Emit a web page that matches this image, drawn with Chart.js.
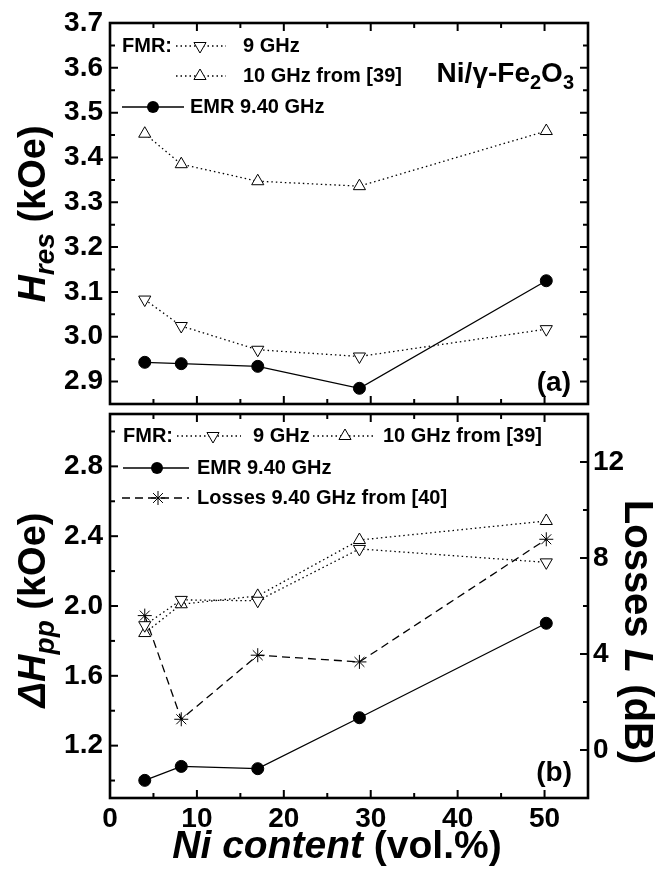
<!DOCTYPE html>
<html>
<head>
<meta charset="utf-8">
<script src="https://cdn.jsdelivr.net/npm/chart.js@4.4.1/dist/chart.umd.min.js"></script>
<style>
  html, body { margin: 0; padding: 0; background: #fff; }
  canvas { position: absolute; left: 0; }
  #topPanel { top: 0; }
  #bottomPanel { top: 406px; }
</style>
</head>
<body>
<canvas id="topPanel" width="665" height="412"></canvas>
<canvas id="bottomPanel" width="665" height="464"></canvas>
<script>
// Ni content of the samples (vol.%)
var niContent = [4.0, 8.2, 17.0, 28.7, 50.2];

// (a) resonance field, kOe
var hresFmr9 = [3.083, 3.024, 2.971, 2.956, 3.017];
var hresFmr10 = [3.453, 3.385, 3.347, 3.336, 3.459];
var hresEmr = [2.943, 2.940, 2.934, 2.885, 3.125];

// (b) linewidth, kOe, and losses, dB
var dhppFmr9 = [1.890, 2.035, 2.030, 2.327, 2.250];
var dhppFmr10 = [1.845, 2.010, 2.058, 2.378, 2.487];
var dhppEmr = [1.001, 1.081, 1.068, 1.360, 1.901];
var lossesDb = [5.6, 1.28, 3.95, 3.67, 8.78];

// ticks
var xMajorTicks = [0, 10, 20, 30, 40, 50];
var xMinorTicks = [5, 15, 25, 35, 45, 55];
var hresMajorTicks = [2.9, 3.0, 3.1, 3.2, 3.3, 3.4, 3.5, 3.6, 3.7];
var hresMinorTicks = [2.85, 2.95, 3.05, 3.15, 3.25, 3.35, 3.45, 3.55, 3.65];
var dhppMajorTicks = [1.2, 1.6, 2.0, 2.4, 2.8];
var dhppMinorTicks = [1.0, 1.4, 1.8, 2.2, 2.6, 3.0];
var lossMajorTicks = [0, 4, 8, 12];
var lossMinorTicks = [-2, 2, 6, 10, 14];

var FONT = "'Liberation Sans', Arial, sans-serif";
var tickFont = { family: FONT, size: 28, weight: 'bold' };

function pts(ys) {
  return niContent.map(function (x, i) { return { x: x, y: ys[i] }; });
}

function isIn(list, v) {
  return list.some(function (t) { return Math.abs(t - v) < 1e-6; });
}

function setTicks(major, minor) {
  return function (scale) {
    scale.ticks = major.concat(minor).sort(function (a, b) { return a - b; })
      .map(function (v) { return { value: v }; });
  };
}

function labelFor(major, digits) {
  return function (v) {
    if (!isIn(major, v)) return '';
    return digits ? v.toFixed(digits) : String(Math.round(v));
  };
}

// fixed axis sizes, no extra room for the end labels
function fixSize(w, h) {
  return function (s) {
    if (w !== null) s.width = w;
    if (h !== null) s.height = h;
    s.paddingTop = 0; s.paddingBottom = 0;
    s.paddingLeft = 0; s.paddingRight = 0;
  };
}

function dotted(label, ys, rot, axis) {
  return {
    label: label, data: pts(ys), yAxisID: axis || 'y', showLine: true,
    borderColor: '#000', borderWidth: 1.3, borderDash: [1.5, 3],
    pointStyle: 'triangle', pointRotation: rot, pointRadius: 7,
    pointBackgroundColor: '#fff', pointBorderColor: '#000', pointBorderWidth: 1
  };
}

function solid(label, ys) {
  return {
    label: label, data: pts(ys), showLine: true,
    borderColor: '#000', borderWidth: 1.3,
    pointStyle: 'circle', pointRadius: 6,
    pointBackgroundColor: '#000', pointBorderColor: '#000', pointBorderWidth: 1
  };
}

// draw a marker like chart.js does
function marker(ctx, style, x, y, r, rot) {
  ctx.save();
  ctx.strokeStyle = '#000';
  ctx.lineWidth = 1;
  ctx.beginPath();
  if (style === 'circle') {
    ctx.fillStyle = '#000';
    ctx.arc(x, y, r, 0, Math.PI * 2);
    ctx.fill();
  } else if (style === 'triangle') {
    var a = rot * Math.PI / 180;
    ctx.fillStyle = '#fff';
    for (var k = 0; k < 3; k++) {
      var px = x + Math.sin(a) * r, py = y - Math.cos(a) * r;
      if (k === 0) ctx.moveTo(px, py); else ctx.lineTo(px, py);
      a += 2 * Math.PI / 3;
    }
    ctx.closePath();
    ctx.fill();
    ctx.stroke();
  } else if (style === 'star') {
    for (var j = 0; j < 4; j++) {
      var b = j * Math.PI / 4;
      ctx.moveTo(x + Math.cos(b) * r, y + Math.sin(b) * r);
      ctx.lineTo(x - Math.cos(b) * r, y - Math.sin(b) * r);
    }
    ctx.stroke();
  }
  ctx.restore();
}

function sample(ctx, x1, x2, y, dash, style, mx, rot) {
  ctx.save();
  ctx.strokeStyle = '#000';
  ctx.lineWidth = 1.3;
  ctx.setLineDash(dash);
  ctx.beginPath();
  ctx.moveTo(x1, y);
  ctx.lineTo(x2, y);
  ctx.stroke();
  ctx.restore();
  marker(ctx, style, mx, y, style === 'circle' ? 6 : 7, rot || 0);
}

// text made of parts with different fonts, optionally rotated
function rich(ctx, parts, x, y, rot, align) {
  ctx.save();
  ctx.translate(x, y);
  ctx.rotate(rot || 0);
  ctx.fillStyle = '#000';
  ctx.textBaseline = 'alphabetic';
  ctx.textAlign = 'left';
  var w = 0;
  parts.forEach(function (p) { ctx.font = p.font; w += ctx.measureText(p.t).width; });
  var cx = align === 'right' ? -w : align === 'left' ? 0 : -w / 2;
  parts.forEach(function (p) {
    ctx.font = p.font;
    ctx.fillText(p.t, cx, p.dy || 0);
    cx += ctx.measureText(p.t).width;
  });
  ctx.restore();
}

function legendText(ctx, t, x, y) {
  ctx.save();
  ctx.font = 'bold 20px ' + FONT;
  ctx.fillStyle = '#000';
  ctx.textBaseline = 'middle';
  ctx.fillText(t, x, y);
  ctx.restore();
}

var inwardTicks = {
  id: 'inwardTicks',
  afterDatasetsDraw: function (chart, args, opts) {
    var ctx = chart.ctx, a = chart.chartArea;
    ctx.save();
    ctx.strokeStyle = '#000';
    ctx.lineWidth = 2;
    opts.axes.forEach(function (ax) {
      var scale = chart.scales[ax.id];
      [[ax.major, 8], [ax.minor, 5]].forEach(function (pair) {
        pair[0].forEach(function (v) {
          var p = scale.getPixelForValue(v);
          ctx.beginPath();
          ax.edges.forEach(function (e) {
            if (e === 'top') { ctx.moveTo(p, a.top); ctx.lineTo(p, a.top + pair[1]); }
            if (e === 'bottom') { ctx.moveTo(p, a.bottom); ctx.lineTo(p, a.bottom - pair[1]); }
            if (e === 'left') { ctx.moveTo(a.left, p); ctx.lineTo(a.left + pair[1], p); }
            if (e === 'right') { ctx.moveTo(a.right, p); ctx.lineTo(a.right - pair[1], p); }
          });
          ctx.stroke();
        });
      });
    });
    ctx.lineWidth = 2.6;
    ctx.strokeRect(a.left, a.top, a.right - a.left, a.bottom - a.top);
    ctx.restore();
  }
};

var topText = {
  id: 'topText',
  afterDraw: function (chart) {
    var ctx = chart.ctx;
    legendText(ctx, 'FMR:', 122, 46);
    sample(ctx, 176, 226, 46, [1.5, 3], 'triangle', 200, 180);
    legendText(ctx, '9 GHz', 243, 46);
    sample(ctx, 176, 226, 76, [1.5, 3], 'triangle', 200, 0);
    legendText(ctx, '10 GHz from [39]', 243, 76);
    sample(ctx, 122, 184, 107, [], 'circle', 153);
    legendText(ctx, 'EMR 9.40 GHz', 190, 107);

    rich(ctx, [
      { t: 'Ni/\u03b3-Fe', font: 'bold 28px ' + FONT },
      { t: '2', font: 'bold 20px ' + FONT, dy: 7 },
      { t: 'O', font: 'bold 28px ' + FONT },
      { t: '3', font: 'bold 20px ' + FONT, dy: 7 }
    ], 574, 82, 0, 'right');
    rich(ctx, [{ t: '(a)', font: 'bold 28px ' + FONT }], 571, 391, 0, 'right');

    rich(ctx, [
      { t: 'H', font: 'italic bold 38px ' + FONT },
      { t: 'res', font: 'italic bold 28px ' + FONT, dy: 9 },
      { t: ' (kOe)', font: 'bold 38px ' + FONT }
    ], 45, 214, -Math.PI / 2, 'center');
  }
};

var bottomText = {
  id: 'bottomText',
  afterDraw: function (chart) {
    var ctx = chart.ctx, o = 406;
    legendText(ctx, 'FMR:', 123, 436 - o);
    sample(ctx, 177, 241, 436 - o, [1.5, 3], 'triangle', 213, 180);
    legendText(ctx, '9 GHz', 253, 436 - o);
    sample(ctx, 313, 374, 436 - o, [1.5, 3], 'triangle', 345, 0);
    legendText(ctx, '10 GHz from [39]', 383, 436 - o);
    sample(ctx, 123, 189, 468 - o, [], 'circle', 157);
    legendText(ctx, 'EMR 9.40 GHz', 197, 468 - o);
    sample(ctx, 122, 189, 498 - o, [8, 5], 'star', 158);
    legendText(ctx, 'Losses 9.40 GHz from [40]', 197, 498 - o);

    rich(ctx, [{ t: '(b)', font: 'bold 28px ' + FONT }], 572, 781 - o, 0, 'right');

    rich(ctx, [
      { t: '\u0394H', font: 'italic bold 38px ' + FONT },
      { t: 'pp', font: 'italic bold 28px ' + FONT, dy: 9 },
      { t: ' (kOe)', font: 'bold 38px ' + FONT }
    ], 45, 610 - o, -Math.PI / 2, 'center');

    rich(ctx, [
      { t: 'Losses ', font: 'bold 40px ' + FONT },
      { t: 'L', font: 'italic bold 40px ' + FONT },
      { t: ' (dB)', font: 'bold 40px ' + FONT }
    ], 625, 632 - o, Math.PI / 2, 'center');

    rich(ctx, [
      { t: 'Ni content', font: 'italic bold 39px ' + FONT },
      { t: ' (vol.%)', font: 'bold 39px ' + FONT }
    ], 337, 858 - o, 0, 'center');
  }
};

var noGrid = { display: false, drawTicks: false };

new Chart(document.getElementById('topPanel'), {
  type: 'scatter',
  data: {
    datasets: [
      dotted('FMR 9 GHz', hresFmr9, 180),
      dotted('FMR 10 GHz from [39]', hresFmr10, 0),
      solid('EMR 9.40 GHz', hresEmr)
    ]
  },
  options: {
    responsive: false,
    animation: false,
    layout: { padding: { top: 23, right: 77, bottom: 3, left: 0 } },
    plugins: {
      legend: { display: false },
      tooltip: { enabled: false },
      inwardTicks: {
        axes: [
          { id: 'x', major: xMajorTicks, minor: xMinorTicks, edges: ['top', 'bottom'] },
          { id: 'y', major: hresMajorTicks, minor: hresMinorTicks, edges: ['left', 'right'] }
        ]
      }
    },
    scales: {
      x: {
        type: 'linear', min: 0, max: 55,
        afterBuildTicks: setTicks(xMajorTicks, xMinorTicks),
        ticks: { display: false },
        grid: noGrid, border: { display: false },
        afterFit: fixSize(null, 0)
      },
      y: {
        type: 'linear', min: 2.85, max: 3.7,
        afterBuildTicks: setTicks(hresMajorTicks, hresMinorTicks),
        ticks: { autoSkip: false, font: tickFont, color: '#000', padding: 7,
                 callback: labelFor(hresMajorTicks, 1) },
        grid: noGrid, border: { display: false },
        afterFit: fixSize(110, null)
      }
    }
  },
  plugins: [inwardTicks, topText]
});

new Chart(document.getElementById('bottomPanel'), {
  type: 'scatter',
  data: {
    datasets: [
      dotted('FMR 9 GHz', dhppFmr9, 180),
      dotted('FMR 10 GHz from [39]', dhppFmr10, 0),
      solid('EMR 9.40 GHz', dhppEmr),
      {
        label: 'Losses 9.40 GHz from [40]', data: pts(lossesDb), yAxisID: 'y2', showLine: true,
        borderColor: '#000', borderWidth: 1.3, borderDash: [8, 5],
        pointStyle: 'star', pointRadius: 7,
        pointBackgroundColor: '#000', pointBorderColor: '#000', pointBorderWidth: 1
      }
    ]
  },
  options: {
    responsive: false,
    animation: false,
    layout: { padding: { top: 3, right: 0, bottom: 0, left: 0 } },
    plugins: {
      legend: { display: false },
      tooltip: { enabled: false },
      inwardTicks: {
        axes: [
          { id: 'x', major: xMajorTicks, minor: xMinorTicks, edges: ['top', 'bottom'] },
          { id: 'y', major: dhppMajorTicks, minor: dhppMinorTicks, edges: ['left'] },
          { id: 'y2', major: lossMajorTicks, minor: lossMinorTicks, edges: ['right'] }
        ]
      }
    },
    scales: {
      x: {
        type: 'linear', min: 0, max: 55,
        afterBuildTicks: setTicks(xMajorTicks, xMinorTicks),
        ticks: { autoSkip: false, maxRotation: 0, font: tickFont, color: '#000', padding: 4,
                 callback: labelFor(xMajorTicks, 0) },
        grid: noGrid, border: { display: false },
        afterFit: fixSize(null, 72)
      },
      y: {
        type: 'linear', position: 'left', min: 0.9, max: 3.1,
        afterBuildTicks: setTicks(dhppMajorTicks, dhppMinorTicks),
        ticks: { autoSkip: false, font: tickFont, color: '#000', padding: 7,
                 callback: labelFor(dhppMajorTicks, 1) },
        grid: noGrid, border: { display: false },
        afterFit: fixSize(110, null)
      },
      y2: {
        type: 'linear', position: 'right', min: -2, max: 14,
        afterBuildTicks: setTicks(lossMajorTicks, lossMinorTicks),
        ticks: { autoSkip: false, font: tickFont, color: '#000', padding: 5,
                 callback: labelFor(lossMajorTicks, 0) },
        grid: noGrid, border: { display: false },
        afterFit: fixSize(77, null)
      }
    }
  },
  plugins: [inwardTicks, bottomText]
});
</script>
</body>
</html>
